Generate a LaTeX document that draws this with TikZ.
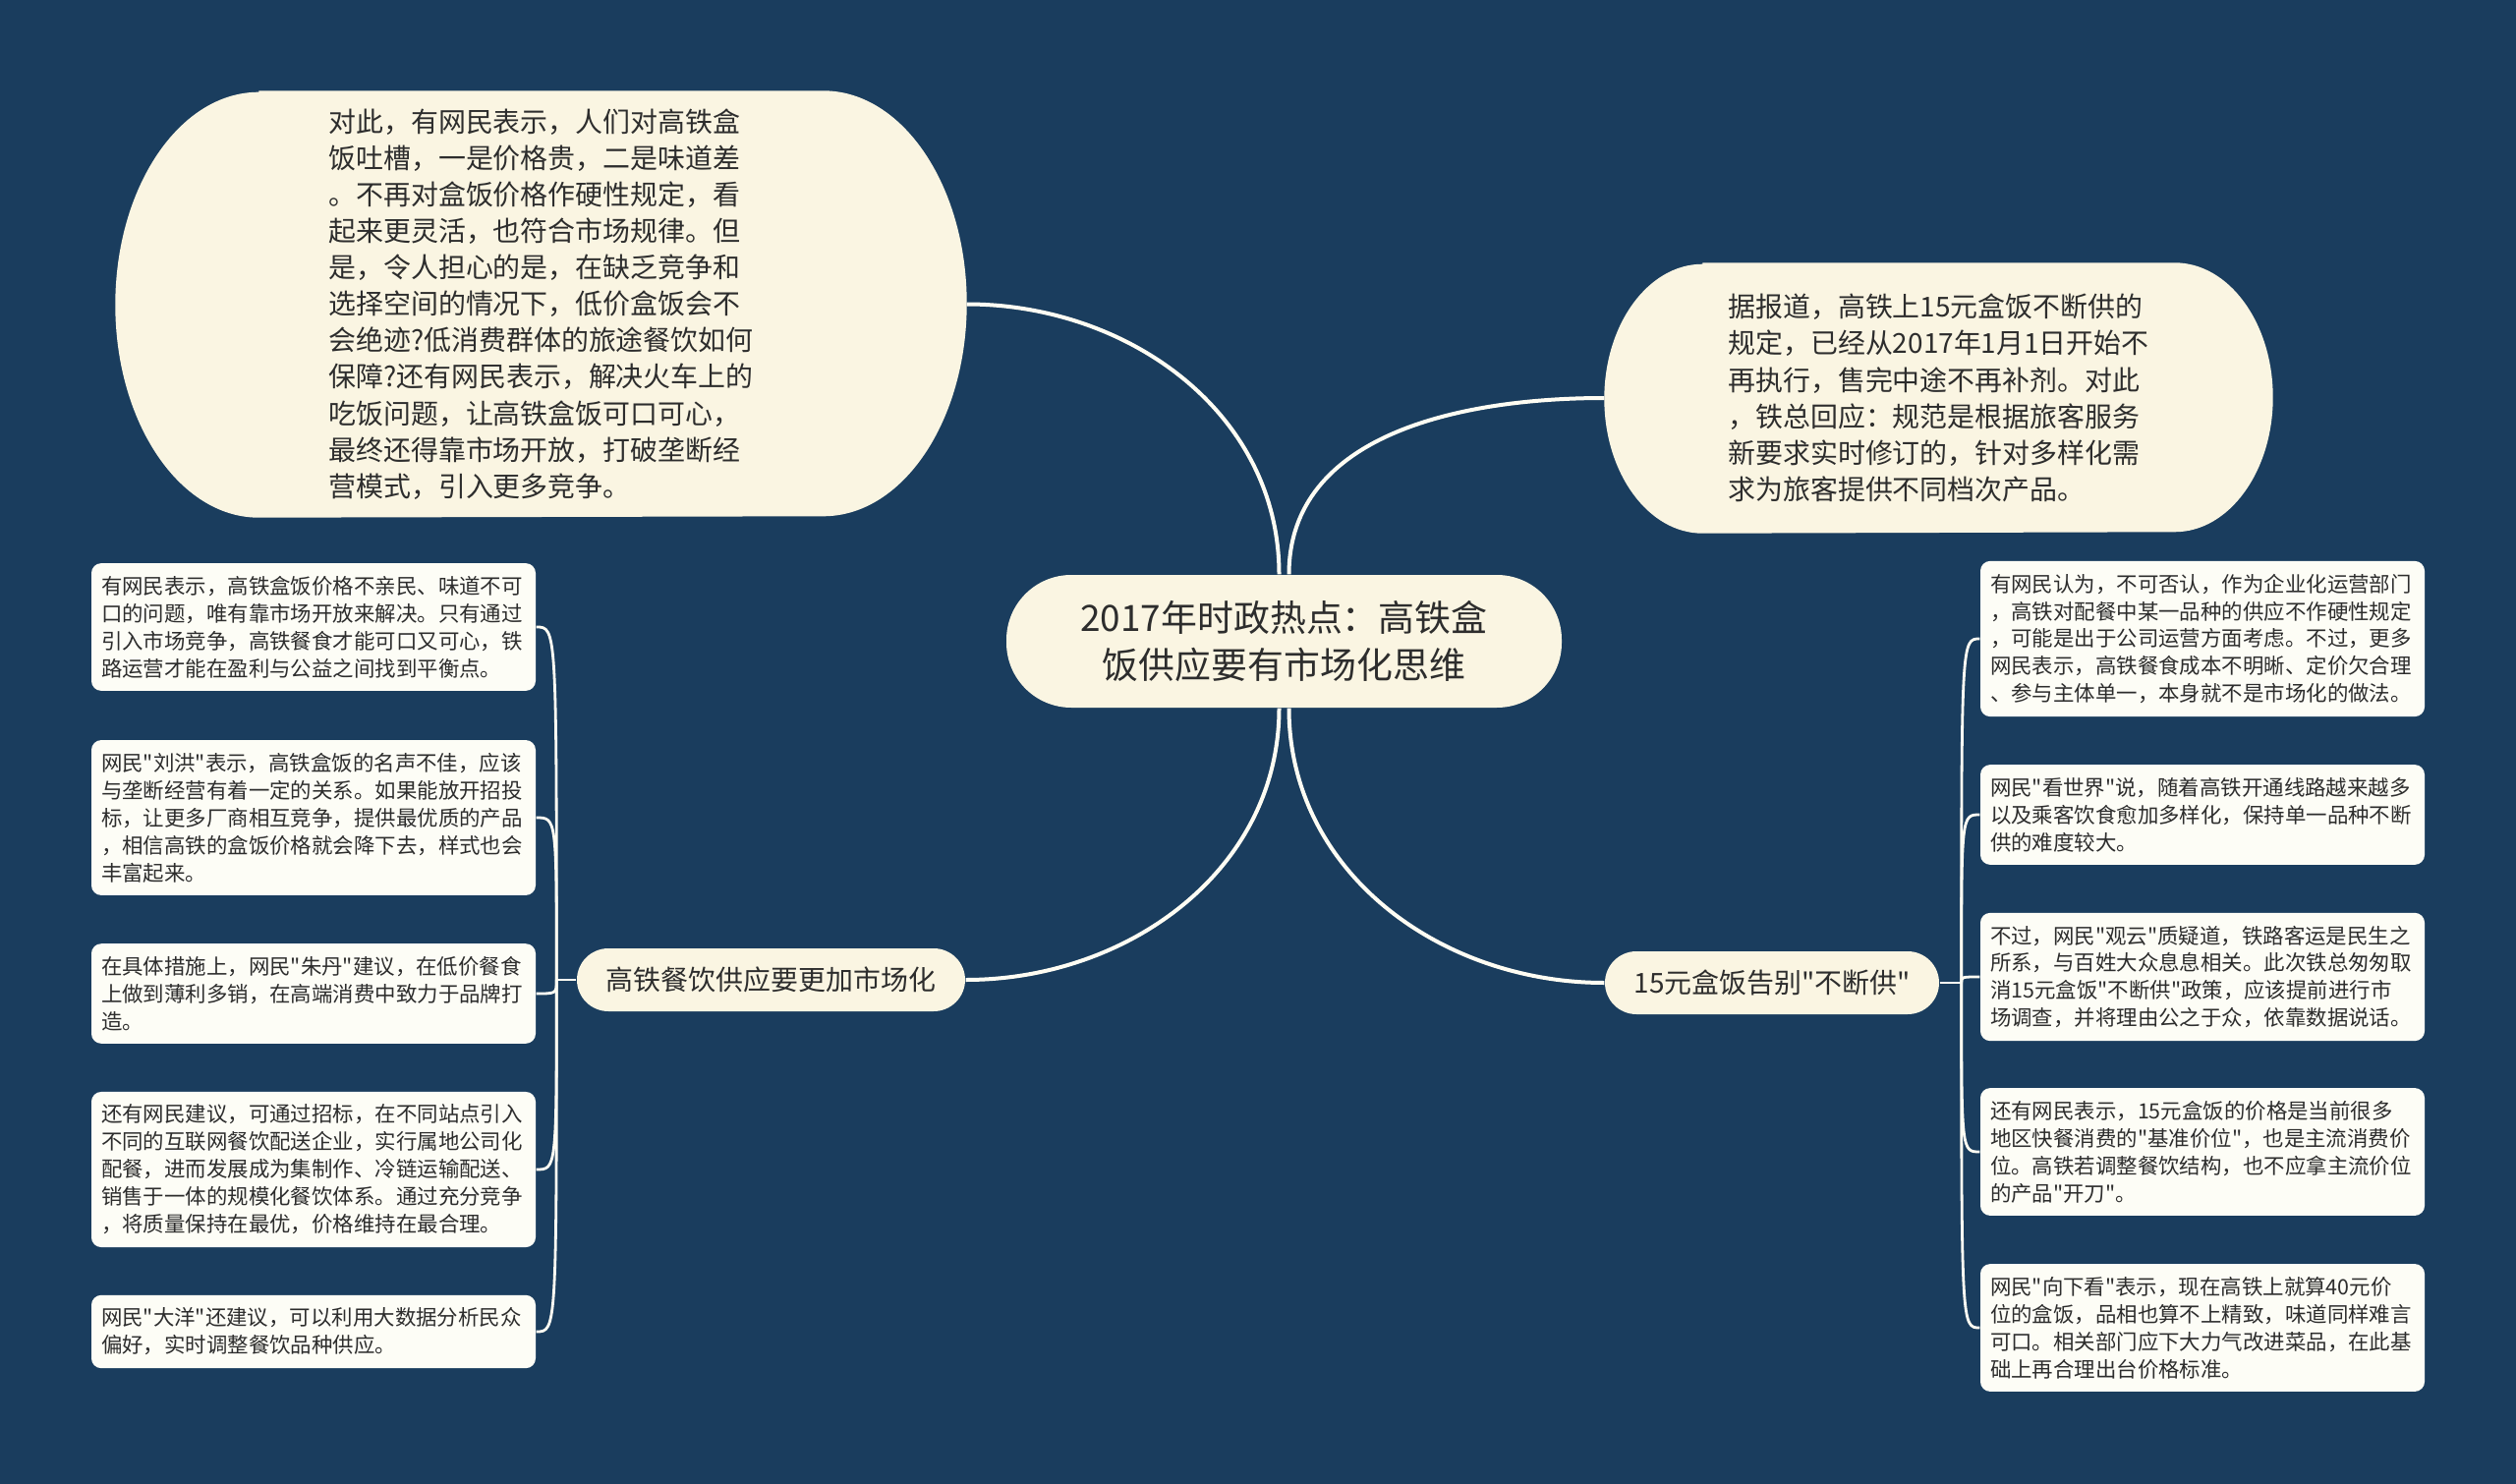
\documentclass[tikz,border=0pt]{standalone}
\usepackage{fontspec}
\newfontfamily\cjk{Noto Sans CJK SC}
\usepackage{xcolor}
\usepackage{tikz}
\usetikzlibrary{positioning, calc, backgrounds}
\definecolor{navy}{RGB}{26,61,94}
\definecolor{cream}{RGB}{250,245,226}
\definecolor{paper}{RGB}{253,253,246}
\definecolor{ink}{RGB}{45,45,45}
\definecolor{wire}{RGB}{255,253,243}

\begin{document}
\begin{tikzpicture}[
    hubbox/.style={fill=cream, text=ink, rounded corners=0.66cm, minimum width=5.65cm, minimum height=1.35cm, align=center, font=\cjk\fontsize{10.5pt}{13.9pt}\selectfont},
    bigtext/.style={text=ink, align=left, font=\cjk\fontsize{7.95pt}{10.55pt}\selectfont},
    branchbox/.style={fill=cream, text=ink, rounded corners=0.32cm, minimum height=0.64cm, font=\cjk\fontsize{7.95pt}{9pt}\selectfont},
    leafbox/.style={fill=paper, text=ink, rounded corners=0.1cm, text width=4.32cm, inner xsep=0.1cm, inner ysep=0.13cm, align=left, font=\cjk\fontsize{6.1pt}{7.95pt}\selectfont},
    link/.style={draw=wire, line width=0.04cm},
    twig/.style={draw=wire, line width=0.028cm}]
    \useasboundingbox (0,0) rectangle (25.6,-15.1);

    \node[hubbox] (hub) at (13.065,-6.525) {2017年时政热点：高铁盒\\饭供应要有市场化思维};

    \node[bigtext, minimum width=8.65cm, minimum height=4.33cm] (topl) at (5.505,-3.095) {
        对此，有网民表示，人们对高铁盒\\
        饭吐槽，一是价格贵，二是味道差\\
        。不再对盒饭价格作硬性规定，看\\
        起来更灵活，也符合市场规律。但\\
        是，令人担心的是，在缺乏竞争和\\
        选择空间的情况下，低价盒饭会不\\
        会绝迹?低消费群体的旅途餐饮如何\\
        保障?还有网民表示，解决火车上的\\
        吃饭问题，让高铁盒饭可口可心，\\
        最终还得靠市场开放，打破垄断经\\
        营模式，引入更多竞争。};
    \node[bigtext, minimum width=6.79cm, minimum height=2.74cm] (topr) at (19.725,-4.05) {
        据报道，高铁上15元盒饭不断供的\\
        规定，已经从2017年1月1日开始不\\
        再执行，售完中途不再补剂。对此\\
        ，铁总回应：规范是根据旅客服务\\
        新要求实时修订的，针对多样化需\\
        求为旅客提供不同档次产品。};

    \node[branchbox, minimum width=3.95cm] (brl) at (7.845,-9.97) {高铁餐饮供应要更加市场化};
    \node[branchbox, minimum width=3.4cm] (brr) at (18.03,-10.0) {15元盒饭告别"不断供"};

    \node[leafbox] (l1) at (3.19,-6.38) {
        有网民表示，高铁盒饭价格不亲民、味道不可\\
        口的问题，唯有靠市场开放来解决。只有通过\\
        引入市场竞争，高铁餐食才能可口又可心，铁\\
        路运营才能在盈利与公益之间找到平衡点。};
    \node[leafbox] (l2) at (3.19,-8.32) {
        网民"刘洪"表示，高铁盒饭的名声不佳，应该\\
        与垄断经营有着一定的关系。如果能放开招投\\
        标，让更多厂商相互竞争，提供最优质的产品\\
        ，相信高铁的盒饭价格就会降下去，样式也会\\
        丰富起来。};
    \node[leafbox] (l3) at (3.19,-10.11) {
        在具体措施上，网民"朱丹"建议，在低价餐食\\
        上做到薄利多销，在高端消费中致力于品牌打\\
        造。};
    \node[leafbox] (l4) at (3.19,-11.9) {
        还有网民建议，可通过招标，在不同站点引入\\
        不同的互联网餐饮配送企业，实行属地公司化\\
        配餐，进而发展成为集制作、冷链运输配送、\\
        销售于一体的规模化餐饮体系。通过充分竞争\\
        ，将质量保持在最优，价格维持在最合理。};
    \node[leafbox] (l5) at (3.19,-13.55) {
        网民"大洋"还建议，可以利用大数据分析民众\\
        偏好，实时调整餐饮品种供应。};

    \node[leafbox] (r1) at (22.41,-6.5) {
        有网民认为，不可否认，作为企业化运营部门\\
        ，高铁对配餐中某一品种的供应不作硬性规定\\
        ，可能是出于公司运营方面考虑。不过，更多\\
        网民表示，高铁餐食成本不明晰、定价欠合理\\
        、参与主体单一，本身就不是市场化的做法。};
    \node[leafbox] (r2) at (22.41,-8.29) {
        网民"看世界"说，随着高铁开通线路越来越多\\
        以及乘客饮食愈加多样化，保持单一品种不断\\
        供的难度较大。};
    \node[leafbox] (r3) at (22.41,-9.94) {
        不过，网民"观云"质疑道，铁路客运是民生之\\
        所系，与百姓大众息息相关。此次铁总匆匆取\\
        消15元盒饭"不断供"政策，应该提前进行市\\
        场调查，并将理由公之于众，依靠数据说话。};
    \node[leafbox] (r4) at (22.41,-11.72) {
        还有网民表示，15元盒饭的价格是当前很多\\
        地区快餐消费的"基准价位"，也是主流消费价\\
        位。高铁若调整餐饮结构，也不应拿主流价位\\
        的产品"开刀"。};
    \node[leafbox] (r5) at (22.41,-13.51) {
        网民"向下看"表示，现在高铁上就算40元价\\
        位的盒饭，品相也算不上精致，味道同样难言\\
        可口。相关部门应下大力气改进菜品，在此基\\
        础上再合理出台价格标准。};

    \begin{scope}[on background layer]
        \fill[navy] (0,0) rectangle (25.6,-15.1);
        \fill[cream] ([xshift=1.46cm]topl.north west) -- ([xshift=-1.46cm]topl.north east)
            arc[start angle=90, end angle=-90, x radius=1.46cm, y radius=2.165cm]
            -- ([xshift=1.46cm]topl.south west)
            arc[start angle=270, end angle=90, x radius=1.46cm, y radius=2.165cm] -- cycle;
        \fill[cream] ([xshift=1.0cm]topr.north west) -- ([xshift=-1.0cm]topr.north east)
            arc[start angle=90, end angle=-90, x radius=1.0cm, y radius=1.37cm]
            -- ([xshift=1.0cm]topr.south west)
            arc[start angle=270, end angle=90, x radius=1.0cm, y radius=1.37cm] -- cycle;
    \end{scope}

    \draw[link] ([xshift=-0.05cm]hub.north) to[out=90, in=0] (topl.east);
    \draw[link] ([xshift=0.05cm]hub.north) to[out=90, in=180] (topr.west);
    \draw[link] ([xshift=-0.05cm]hub.south) to[out=270, in=0] (brl.east);
    \draw[link] ([xshift=0.05cm]hub.south) to[out=270, in=180] (brr.west);

    \coordinate (ltrunk) at ([xshift=-0.2cm]brl.west);
    \coordinate (rtrunk) at ([xshift=0.22cm]brr.east);
    \draw[twig] (brl.west) -- (ltrunk);
    \draw[twig] (brr.east) -- (rtrunk);
    \draw[twig] (ltrunk) .. controls (ltrunk |- l1.east) .. (l1.east);
    \draw[twig] (ltrunk) .. controls (ltrunk |- l2.east) .. (l2.east);
    \draw[twig] (ltrunk) .. controls (ltrunk |- l3.east) .. (l3.east);
    \draw[twig] (ltrunk) .. controls (ltrunk |- l4.east) .. (l4.east);
    \draw[twig] (ltrunk) .. controls (ltrunk |- l5.east) .. (l5.east);
    \draw[twig] (rtrunk) .. controls (rtrunk |- r1.west) .. (r1.west);
    \draw[twig] (rtrunk) .. controls (rtrunk |- r2.west) .. (r2.west);
    \draw[twig] (rtrunk) .. controls (rtrunk |- r3.west) .. (r3.west);
    \draw[twig] (rtrunk) .. controls (rtrunk |- r4.west) .. (r4.west);
    \draw[twig] (rtrunk) .. controls (rtrunk |- r5.west) .. (r5.west);
\end{tikzpicture}
\end{document}
